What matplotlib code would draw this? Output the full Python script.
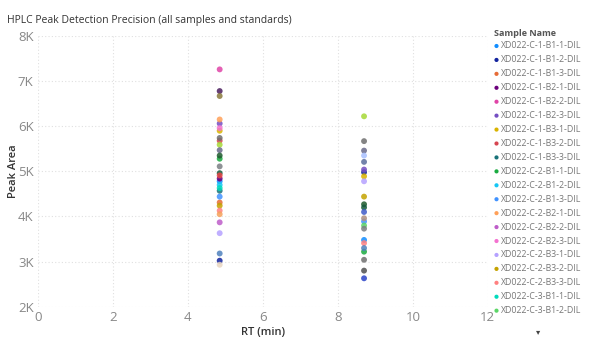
import matplotlib.pyplot as plt
import numpy as np

plt.rcParams['font.family'] = ['Open Sans', 'DejaVu Sans']

nan = np.nan

# sample names (only the first 20 fit in the legend, the rest scroll)
sample_names = [
    'XD022-C-1-B1-1-DIL', 'XD022-C-1-B1-2-DIL', 'XD022-C-1-B1-3-DIL',
    'XD022-C-1-B2-1-DIL', 'XD022-C-1-B2-2-DIL', 'XD022-C-1-B2-3-DIL',
    'XD022-C-1-B3-1-DIL', 'XD022-C-1-B3-2-DIL', 'XD022-C-1-B3-3-DIL',
    'XD022-C-2-B1-1-DIL', 'XD022-C-2-B1-2-DIL', 'XD022-C-2-B1-3-DIL',
    'XD022-C-2-B2-1-DIL', 'XD022-C-2-B2-2-DIL', 'XD022-C-2-B2-3-DIL',
    'XD022-C-2-B3-1-DIL', 'XD022-C-2-B3-2-DIL', 'XD022-C-2-B3-3-DIL',
    'XD022-C-3-B1-1-DIL', 'XD022-C-3-B1-2-DIL', 'XD022-C-3-B1-3-DIL',
    'XD022-C-3-B2-1-DIL', 'XD022-C-3-B2-2-DIL', 'XD022-C-3-B2-3-DIL',
    'XD022-C-3-B3-1-DIL', 'XD022-C-3-B3-2-DIL', 'XD022-C-3-B3-3-DIL',
    'STD-1', 'STD-2', 'STD-3', 'STD-4', 'STD-5', 'STD-6', 'STD-7',
    'STD-8', 'STD-9', 'STD-10',
]

sample_colors = [
    '#118DFF', '#12239E', '#E66C37', '#6B007B', '#E044A7', '#744EC2',
    '#D9B300', '#D64550', '#197278', '#1AAB40', '#15C6F4', '#4092FF',
    '#FFA058', '#BE5DC9', '#F472D0', '#B5A1FF', '#C4A200', '#FF8080',
    '#00DBBC', '#5BD667', '#4B1E5E', '#8A7A3C', '#6E6E6E', '#A6D936',
    '#6A6A8A', '#1E5A2E', '#7A7F84', '#145A3C', '#E84545', '#F5A05A',
    '#E8D5C0', '#4F81BD', '#A8C0FF', '#5B6D9C', '#3F5BC8', '#B09080',
    '#505050',
]

peak_rt = [4.85, 8.70]

# peak area of the first peak (RT ~4.85 min)
area_peak1 = [
    4780, 3020, 4310, 4840, 7260, 6060, 5900, 5680, 4570, 5280,
    4700, 4440, 6150, 3870, 5960, 3630, 4240, 4130, 4630, nan,
    6780, 6670, 5740, 5590, 5470, 5350, 5110, 4960, 4910, 4050,
    2930, 3180, nan, nan, nan, nan, nan,
]

# peak area of the second peak (RT ~8.7 min)
area_peak2 = [
    3480, 4980, nan, nan, nan, 5040, 4890, nan, nan, 3220,
    nan, 3890, nan, nan, nan, 4780, 4440, 3410, nan, 3800,
    nan, nan, 5670, 6220, 5460, 4270, 3730, 4200, nan, nan,
    nan, 3300, 5350, 5210, 4100, 3960, 2800,
]
extra_peak2 = [3040, 2630]
extra_colors = ['#707070', '#2B44C8']

fig = plt.figure(figsize=[6, 3.6], dpi=100)
ax = fig.add_axes([0.063, 0.148, 0.75, 0.752])

for i, name in enumerate(sample_names):
    c = sample_colors[i]
    ax.scatter([peak_rt[0]], [area_peak1[i]], s=18, color=c, alpha=0.85,
               edgecolors='none', zorder=3)
    ax.scatter([peak_rt[1]], [area_peak2[i]], s=18, color=c, alpha=0.85,
               edgecolors='none', zorder=3)
for a, c in zip(extra_peak2, extra_colors):
    ax.scatter([peak_rt[1]], [a], s=18, color=c, alpha=0.85,
               edgecolors='none', zorder=3)

ax.set_xlim(0, 12)
ax.set_ylim(2000, 8000)
ax.set_xticks(np.arange(0, 13, 2))
ax.set_yticks(np.arange(2000, 8001, 1000))
ax.set_yticklabels(['{}K'.format(v) for v in range(2, 9)])
for s in ax.spines.values():
    s.set_visible(False)
ax.grid(True, color='#e0e0e0', linestyle=(0, (1, 2)), linewidth=0.8)
ax.set_axisbelow(True)
ax.tick_params(length=0, labelsize=9.5, colors='#888888')
ax.tick_params(axis='x', pad=3)
ax.tick_params(axis='y', pad=3)
ax.set_xlabel('RT (min)', fontsize=8, color='#333333', labelpad=2,
              fontweight='semibold')
ax.set_ylabel('Peak Area', fontsize=8, color='#333333', labelpad=-1,
              fontweight='semibold')

fig.text(0.011, 0.944, 'HPLC Peak Detection Precision (all samples and standards)',
         fontsize=7.5, color='#333333', va='center')

# legend
fig.text(0.823, 0.907, 'Sample Name', fontsize=6.5, fontweight='bold',
         color='#555555', va='center')
lax = fig.add_axes([0, 0, 1, 1])
lax.set_xlim(0, 600)
lax.set_ylim(360, 0)
lax.axis('off')
for i in range(20):
    y = 46 + i * 13.93
    lax.scatter([496.5], [y], s=9, color=sample_colors[i], edgecolors='none')
    lax.text(500.5, y, sample_names[i], fontsize=6.3, color='#777777',
             va='center')
lax.text(538, 333, '▾', fontsize=6, color='#444444', ha='center', va='center')

fig.savefig('out.png', dpi=100)
